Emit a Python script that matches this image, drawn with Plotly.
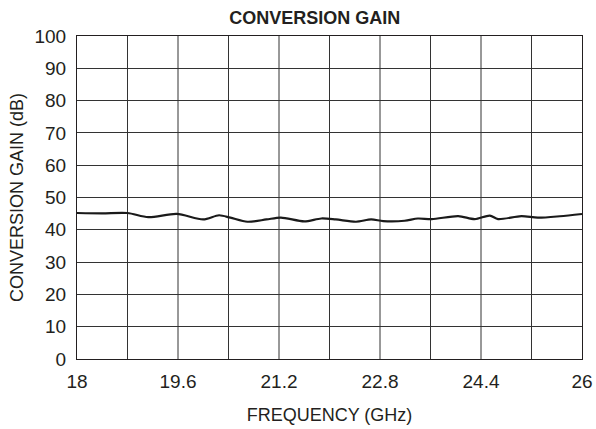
import plotly.graph_objects as go

freq_ghz = [18.0, 18.4, 18.8, 19.13, 19.58, 20.0, 20.25, 20.43, 20.7, 21.0, 21.23, 21.6, 21.87,
            22.1, 22.42, 22.66, 22.85, 23.19, 23.4, 23.62, 24.04, 24.3, 24.54, 24.67, 25.04,
            25.3, 25.65, 26.0]
gain_db = [45.2, 45.1, 45.2, 43.9, 44.9, 43.2, 44.5, 43.75, 42.5, 43.2, 43.8, 42.6, 43.5,
           43.2, 42.5, 43.2, 42.7, 42.8, 43.5, 43.3, 44.25, 43.3, 44.4, 43.3, 44.25,
           43.75, 44.2, 44.9]

x_tickvals = [18, 19.6, 21.2, 22.8, 24.4, 26]
x_ticktext = ["18", "19.6", "21.2", "22.8", "24.4", "26"]
y_tickvals = [0, 10, 20, 30, 40, 50, 60, 70, 80, 90, 100]

fig = go.Figure()
fig.add_trace(go.Scatter(x=freq_ghz, y=gain_db, mode="lines",
                         line=dict(color="#1a1a1a", width=2.2, shape="spline", smoothing=0.8),
                         showlegend=False, hoverinfo="skip"))

# vertical gridlines every 0.8 GHz
grid_x = [18 + 0.8 * i for i in range(11)]

fig.update_layout(
    width=596, height=429,
    margin=dict(l=77, r=14, t=36, b=70, autoexpand=False),
    paper_bgcolor="white", plot_bgcolor="white",
    font=dict(family="Liberation Sans, Arial, sans-serif", color="#231f20", size=19),
    title=dict(text="<b>CONVERSION GAIN</b>", x=0.528, xanchor="center", y=0.958, yanchor="middle",
               font=dict(family="Liberation Sans, Arial", size=18, color="#231f20")),
    xaxis=dict(range=[18, 26], tickvals=x_tickvals, ticktext=x_ticktext, automargin=False,
               showgrid=False, zeroline=False,
               showline=True, linecolor="#231f20", linewidth=1.2, mirror=True,
               ticks="", ticklen=0, ticklabelstandoff=5,
               title=dict(text="FREQUENCY (GHz)", font=dict(size=18), standoff=17)),
    yaxis=dict(range=[0, 100], tickvals=y_tickvals, automargin=False,
               showgrid=True, gridcolor="#333333", gridwidth=1,
               zeroline=False, showline=True, linecolor="#231f20", linewidth=1.2, mirror=True,
               ticks="", ticklen=0, ticklabelstandoff=6,
               title=dict(text="CONVERSION GAIN (dB)", font=dict(size=18), standoff=6)),
)

for gx in grid_x[1:-1]:
    fig.add_shape(type="line", x0=gx, x1=gx, y0=0, y1=1, xref="x", yref="paper",
                  line=dict(color="#333333", width=1), layer="below")

fig.write_html(
    "out.html",
    config={"displayModeBar": False, "responsive": False},
    post_script="document.documentElement.style.margin='0';document.body.style.margin='0';"
                "document.documentElement.style.overflow='hidden';document.body.style.overflow='hidden';",
)
